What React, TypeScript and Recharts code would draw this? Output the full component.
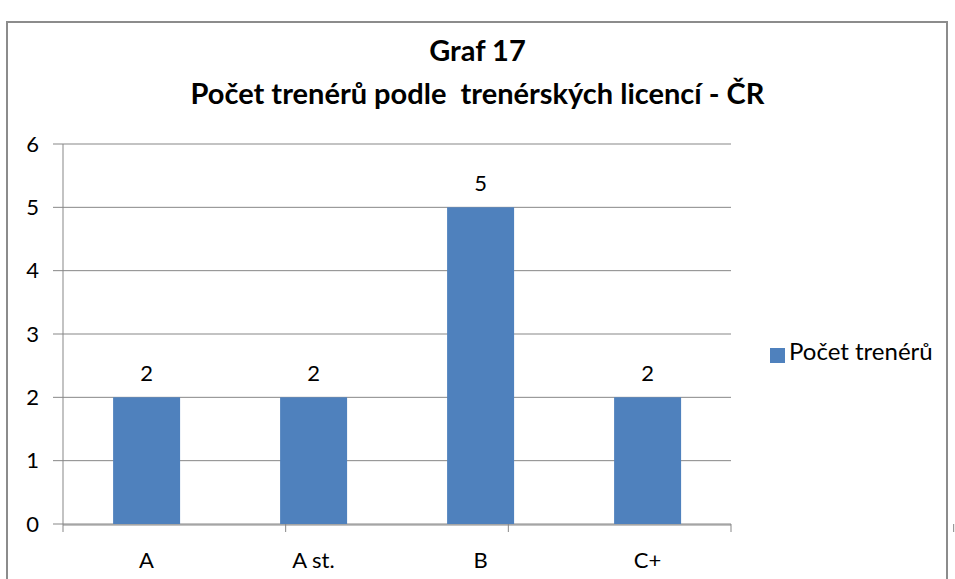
import { BarChart, Bar, XAxis, YAxis, CartesianGrid, Legend, LabelList } from 'recharts';

const categories = ['A', 'A st.', 'B', 'C+'];
const coachCounts = [2, 2, 5, 2];
const yTicks = [0, 1, 2, 3, 4, 5, 6];
const boundaryTicks = [0, 1, 2, 3, 4];

const seriesName = 'Počet trenérů';
const titleLines = ['Graf 17', 'Počet trenérů podle  trenérských licencí - ČR'];

const data = categories.map((c, i) => ({ name: c, value: coachCounts[i] }));

const GRID = '#878787';
const BAR = '#4F81BD';
const FONT = 'Lato, "Open Sans", sans-serif';

export default function App() {
  return (
    <div
      style={{
        position: 'absolute',
        left: 0,
        top: 0,
        width: 955,
        height: 579,
        background: '#fff',
        fontFamily: FONT,
        overflow: 'hidden',
      }}
    >
      {/* chart frame */}
      <div
        style={{
          position: 'absolute',
          left: 6,
          top: 21,
          width: 942,
          height: 600,
          border: '2px solid #8c8c8c',
          boxSizing: 'border-box',
        }}
      />
      {titleLines.map((t, i) => (
        <div
          key={i}
          style={{
            position: 'absolute',
            left: 0,
            width: 955,
            top: 33 + i * 43,
            textAlign: 'center',
            fontWeight: 700,
            fontSize: 29,
            lineHeight: '34px',
            color: '#000',
            whiteSpace: 'pre',
          }}
        >
          {t}
        </div>
      ))}
      <div style={{ position: 'absolute', left: 0, top: 0 }}>
        <BarChart
          width={955}
          height={579}
          data={data}
          margin={{ top: 144, right: 224, bottom: 0, left: 0 }}
          barCategoryGap="30%"
        >
          <CartesianGrid vertical={false} stroke={GRID} strokeWidth={1} />
          {/* tick marks between categories */}
          <XAxis
            xAxisId="a"
            type="number"
            domain={[0, 4]}
            ticks={boundaryTicks}
            tick={() => <g />}
            tickSize={8}
            axisLine={false}
            stroke={GRID}
            height={1}
            allowDataOverflow
          />
          <XAxis
            xAxisId="b"
            dataKey="name"
            height={54}
            tickLine={false}
            axisLine={{ stroke: GRID }}
            tickMargin={21}
            tick={{ fill: '#000', fontSize: 22 }}
            interval={0}
          />
          <YAxis
            width={63}
            domain={[0, 6]}
            ticks={yTicks}
            tickSize={10}
            tickMargin={14}
            stroke={GRID}
            tick={{ fill: '#000', fontSize: 22 }}
            interval={0}
          />
          <Legend
            layout="horizontal"
            verticalAlign="middle"
            align="center"
            iconType="square"
            iconSize={15}
            wrapperStyle={{ left: 770, top: 336, width: 'auto' }}
            formatter={(v) => <span style={{ color: '#000', fontSize: 24 }}>{v}</span>}
          />
          <Bar xAxisId="b" dataKey="value" name={seriesName} fill={BAR} isAnimationActive={false}>
            <LabelList dataKey="value" position="top" offset={16} fill="#000" fontSize={22} />
          </Bar>
        </BarChart>
      </div>
    </div>
  );
}
